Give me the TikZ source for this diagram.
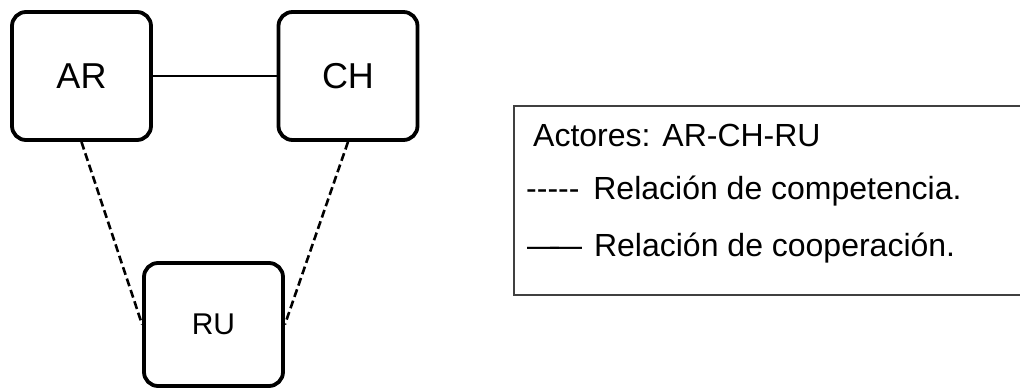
\documentclass[tikz,border=0pt]{standalone}
\usepackage{fontspec}
\setmainfont{Liberation Sans}

\begin{document}
\begin{tikzpicture}[x=1pt,y=-1pt,
	every node/.style={font=\fontsize{32}{38}\selectfont},
	actor/.style={draw,line width=3.8pt,rounded corners=14pt,minimum width=139pt,minimum height=128pt,inner sep=0pt,font=\fontsize{36}{40}\selectfont},
	coop/.style={line width=2.7pt},
	compet/.style={line width=2.6pt,dash pattern=on 8pt off 4pt},
	legtext/.style={anchor=base west,inner sep=0pt}]
	\useasboundingbox (0,0) rectangle (1020,390);
	\clip (0,0) rectangle (1020,390);
	% actores
	\node[actor] (AR) at (81.5,76) {AR};
	\node[actor] (CH) at (348,76) {CH};
	\node[actor,minimum height=123pt,font=\fontsize{30}{34}\selectfont] (RU) at (213.5,324.5) {RU};
	\draw[coop] (AR) -- (CH);
	\draw[compet] (AR.south) -- (RU.west);
	\draw[compet] (CH.south) -- (RU.east);
	% leyenda
	\draw[line width=1.4pt,black!75] (514,106) rectangle (1030,295);
	\node[legtext] (act) at (533,147) {Actores: AR-CH-RU};
	\node[legtext] (comp) at (526,200) {-{}-{}-{}-{}-\hspace{5pt} Relación de competencia.};
	\node[legtext] (coop) at (527,257) {—\kern-9pt—\hspace{3pt} Relación de cooperación.};
\end{tikzpicture}
\end{document}
